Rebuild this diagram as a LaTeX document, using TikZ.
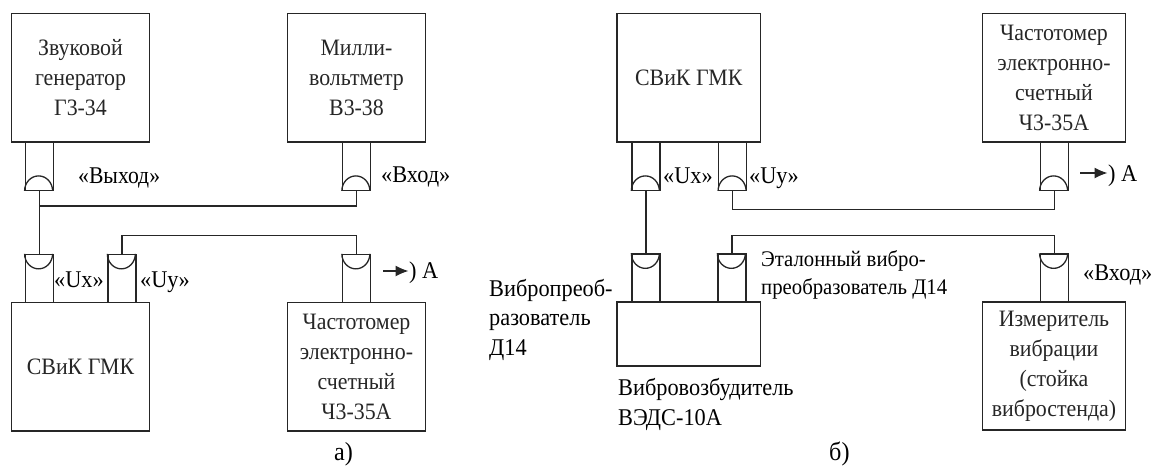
\documentclass[tikz,border=0pt]{standalone}
\usepackage{fontspec}
\setmainfont[FakeStretch=0.93]{Liberation Serif}
\usetikzlibrary{arrows.meta}
\tikzset{
  every picture/.style={x=1pt,y=-1pt},
  wire/.style={line width=1.3pt,black!85},
  blockbox/.style={draw,wire,align=center,inner sep=0pt,font=\fontsize{23.5}{30}\selectfont},
  sock/.style={draw,wire,inner sep=0pt,minimum width=28pt,minimum height=48pt},
  lbl/.style={inner sep=0pt,align=left,anchor=base west,font=\fontsize{24}{29.5}\selectfont},
  smalllbl/.style={lbl,font=\fontsize{22.3}{27.5}\selectfont},
  caplbl/.style={inner sep=0pt,anchor=base west,font=\fontsize{26}{30}\selectfont},
  arr/.style={wire,-{Latex[length=13pt,width=11pt]},shorten >=0.5pt}
}
\newcommand{\plugbottom}[3]{\node[sock] (#1) at (#2,#3) {};
  \draw[wire] (#1.south west) arc[start angle=180,end angle=0,x radius=14pt,y radius=15pt];}
\newcommand{\plugtop}[3]{\node[sock] (#1) at (#2,#3) {};
  \draw[wire] (#1.north west) arc[start angle=180,end angle=360,x radius=14pt,y radius=15pt];}
\begin{document}
\begin{tikzpicture}
\useasboundingbox (0,0) rectangle (1153,466);
% a)
\node[blockbox,minimum width=138pt,minimum height=128.5pt] (gen) at (80.5,77.75) {Звуковой\\генератор\\Г3-34};
\node[blockbox,minimum width=138pt,minimum height=128.5pt] (mv) at (356.5,77.75) {Милли-\\вольтметр\\В3-38};
\node[blockbox,minimum width=138pt,minimum height=128.5pt] (sva) at (80.5,366.75) {СВиК ГМК};
\node[blockbox,minimum width=138pt,minimum height=128.5pt] (fa) at (356.5,366.75) {Частотомер\\электронно-\\счетный\\Ч3-35А};
\plugbottom{pgen}{39.25}{166.25}
\plugbottom{pmv}{356.5}{166.25}
\plugtop{pux}{39.25}{278.5}
\plugtop{puy}{122}{278.5}
\plugtop{pfa}{356.5}{278.5}
\coordinate (ja) at (39.25,206);
\draw[wire] (pgen.south) -- (pux.north);
\draw[wire] (ja) -| (pmv.south);
\draw[wire] (puy.north) -- ++(0,-18.5) -| (pfa.north);
\node[lbl,xscale=0.97] (tvyh) at (78,183) {«Выход»};
\node[lbl] (tvh) at (381,182) {«Вход»};
\node[lbl] (tux) at (54,287) {«Ux»};
\node[lbl] (tuy) at (140,287) {«Uy»};
\node[lbl] (ta) at (409,278) {) А};
\coordinate (sa) at (383,271);
\draw[arr] (sa) -- (sa -| ta.west);
\node[caplbl] (capa) at (334,460) {а)};
% b)
\node[blockbox,minimum width=143.5pt,minimum height=128.5pt] (svb) at (688.75,77.75) {СВиК ГМК};
\node[blockbox,minimum width=143pt,minimum height=128.5pt] (fb) at (1054,77.75) {Частотомер\\электронно-\\счетный\\Ч3-35А};
\node[blockbox,minimum width=143.5pt,minimum height=64pt] (exc) at (688.75,334) {};
\node[blockbox,minimum width=143pt,minimum height=128pt] (vib) at (1054,366) {Измеритель\\вибрации\\(стойка\\вибростенда)};
\plugbottom{qux}{646}{166.25}
\plugbottom{quy}{732.75}{166.25}
\plugbottom{qfb}{1054.25}{166.25}
\plugtop{qd}{646}{278}
\plugtop{qe}{732}{278}
\plugtop{qvib}{1054.25}{278}
\draw[wire] (qux.south) -- (qd.north);
\draw[wire] (quy.south) -- ++(0,18.5) -| (qfb.south);
\draw[wire] (qe.north) -- ++(0,-18) -| (qvib.north);
\node[lbl] (tqux) at (663,183) {«Ux»};
\node[lbl] (tquy) at (749,183) {«Uy»};
\node[lbl] (tb) at (1108,181) {) А};
\coordinate (sb) at (1080,173);
\draw[arr] (sb) -- (sb -| tb.west);
\node[smalllbl] (teta) at (761,294) {Эталонный вибро-\\преобразователь Д14};
\node[lbl] (tvin) at (1083,280) {«Вход»};
\node[lbl] (tvp) at (489,355) {Вибропреоб-\\разователь\\Д14};
\node[lbl] (tve) at (618,425) {Вибровозбудитель\\ВЭДС-10А};
\node[caplbl] (capb) at (829,460) {б)};
\end{tikzpicture}
\end{document}
